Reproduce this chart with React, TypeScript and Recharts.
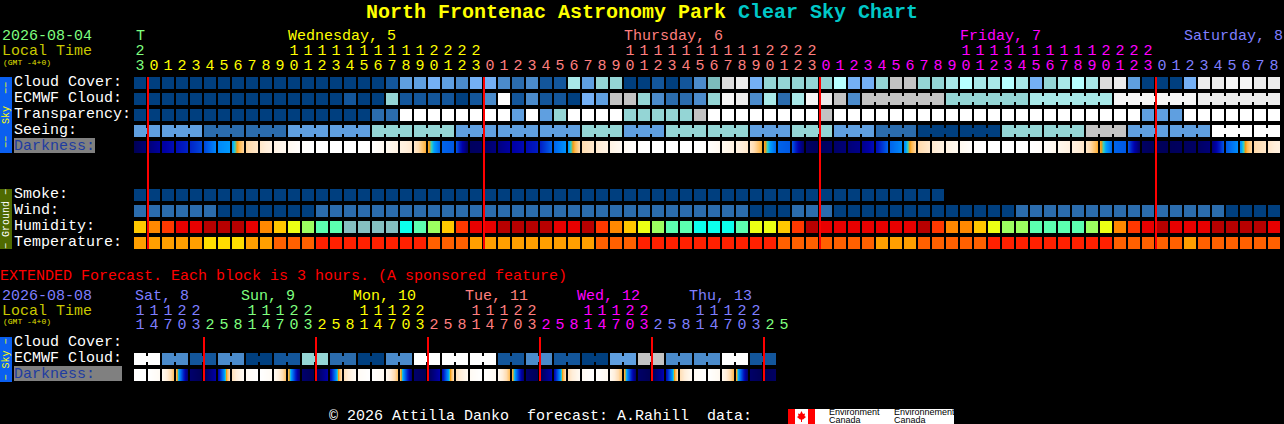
import { ReferenceLine, Scatter, ScatterChart, XAxis, YAxis } from "recharts";

const MONO = "'Liberation Mono', monospace";

// sky condition colour per level, dark blue (clear / good) to white (overcast / poor)
const SKY_COLORS = [
  "#003f7f", "#13569b", "#2b6cad", "#4b8bcb", "#5f9fe0",
  "#74b0f5", "#7cbcbc", "#94d5d5", "#a8e8e8", "#b7ffff",
  "#c3c3c3", "#dcdcdc", "#ececec", "#f6f6f6", "#ffffff",
];
const HUMIDITY_COLORS = [
  "#85c0c0", "#0cffec", "#5cffb0", "#9cff60", "#ecff14",
  "#ffc800", "#ff8800", "#ff3800", "#e80000", "#b80000",
];
const TEMP_COLORS = ["#ffdd00", "#ff9f00", "#ff6000", "#ff2000"];

// darkness ramp: score 0 is full daylight, 10 is a moonless night
const DARK_SCORES = [0, 1, 2, 3, 4, 4.4, 4.8, 5.2, 6, 6.8, 7.5, 8.2, 9, 10];
const DARK_RGB = [
  [255, 255, 255], [255, 248, 238], [255, 238, 218], [255, 220, 176],
  [255, 184, 76], [245, 154, 16], [48, 208, 192], [0, 160, 255],
  [0, 112, 240], [0, 64, 216], [0, 24, 192], [0, 0, 168], [0, 0, 128], [0, 0, 80],
];

const cloudCover = [
  0, 0, 0, 0, 0, 0, 0, 0, 0, 0, 0, 0, 0, 0, 0, 0, 0, 0, 1, 4, 4, 5, 4, 3, 5, 5, 3, 2, 3, 1, 1, 8, 4, 7, 7, 0, 0, 1, 0, 1, 3,
  6, 11, 12, 5, 7, 7, 7, 7, 7, 9, 5, 5, 7, 10, 10, 7, 7, 8, 9, 8, 8, 9, 8, 5, 7, 8, 9, 8, 11, 12, 4, 0, 0, 0, 5, 12, 12, 13, 13, 12, 12,
];
const ecmwfCloud = [
  0, 0, 0, 0, 0, 0, 0, 0, 0, 0, 0, 0, 0, 0, 0, 1, 0, 0, 7, 1, 1, 1, 1, 0, 1, 3, 14, 1, 3, 1, 1, 0, 5, 4, 10, 10, 7, 3, 2, 2, 3,
  7, 13, 12, 3, 8, 2, 8, 13, 12, 10, 3, 10, 10, 10, 10, 10, 10, 7, 7, 7, 7, 7, 7, 8, 8, 8, 8, 8, 8, 13, 13, 13, 13, 13, 13, 12, 12, 12, 12, 12, 12,
];
const transparency = [
  0, 0, 0, 0, 0, 0, 0, 0, 0, 0, 0, 0, 0, 0, 0, 0, 0, 2, 2, 14, 14, 14, 14, 14, 14, 14, 14, 4, 14, 4, 7, 14, 14, 14, 14, 7, 7, 7, 7, 7, 10,
  14, 14, 14, 14, 14, 14, 14, 14, 10, 14, 14, 14, 14, 14, 14, 14, 14, 14, 14, 14, 14, 14, 14, 14, 14, 14, 14, 14, 14, 14, 14, 4, 4, 4, 14, 14, 14, 14, 14, 14, 14,
];
const seeing = [
  4, 4, 4, 4, 4, 2, 2, 2, 2, 2, 2, 4, 4, 4, 4, 4, 4, 7, 7, 7, 7, 7, 7, 4, 4, 4, 4, 4, 4, 4, 4, 4, 7, 7, 7, 4, 4, 4, 7, 7, 7,
  7, 7, 7, 4, 4, 4, 7, 7, 7, 4, 4, 4, 2, 2, 2, 0, 0, 0, 0, 0, 0, 7, 7, 7, 7, 7, 7, 10, 10, 10, 4, 4, 4, 4, 4, 4, 14, 14, 14, 14, 14,
];
// darkness score at each cell edge, one more than the cells
const darkness = [
  9.9, 9.2, 8.4, 7.8, 7.3, 6.7, 5.6, 5.3, 3.2, 2.4, 1.6, 0.9, 0.2, 0, 0, 0, 0, 0.1, 0.9, 1.6, 2.3, 4.2, 6.2, 6.4, 9.7, 9.6, 9.0, 8.3,
  7.9, 7.4, 6.2, 5.4, 3.0, 2.3, 1.5, 0.7, 0.1, 0, 0, 0, 0, 0.1, 0.9, 1.6, 2.4, 4.2, 6.2, 6.4, 9.6, 9.8, 9.5, 9.2, 8.8, 7.8, 6.2, 5.6,
  3.1, 2.3, 1.6, 0.9, 0.2, 0, 0, 0, 0, 0.3, 1.0, 1.7, 2.4, 4.2, 6.2, 6.4, 9.6, 9.8, 9.8, 9.7, 9.6, 9.2, 6.4, 5.5, 3.1, 2.4, 1.7,
];
const smoke = [
  0, 0, 0, 0, 0, 0, 0, 0, 0, 0, 0, 0, 0, 0, 0, 0, 0, 0, 0, 0, 0, 0, 0, 0, 0, 0, 0, 0, 0,
  0, 0, 0, 0, 0, 0, 0, 0, 0, 0, 0, 0, 0, 0, 0, 0, 0, 0, 0, 0, 0, 0, 0, 0, 0, 0, 0, 0, 0,
];
const wind = [
  2, 2, 2, 2, 2, 2, 0, 0, 0, 0, 0, 0, 0, 2, 2, 2, 2, 2, 2, 2, 2, 2, 2, 2, 2, 2, 2, 2, 2, 2, 2, 2, 2, 2, 2, 2, 2, 2, 2, 2, 2,
  2, 2, 2, 0, 0, 0, 2, 2, 2, 0, 0, 0, 0, 0, 0, 0, 0, 0, 0, 0, 0, 0, 2, 2, 2, 2, 2, 2, 2, 2, 2, 2, 2, 2, 2, 2, 2, 0, 0, 0, 0,
];
const humidity = [
  5, 6, 7, 8, 8, 9, 9, 9, 8, 6, 5, 4, 3, 2, 2, 0, 0, 0, 0, 1, 2, 3, 5, 7, 8, 8, 9, 9, 9, 9, 8, 8, 9, 7, 6, 5, 4, 3, 2, 2, 1,
  1, 1, 2, 4, 4, 5, 7, 9, 8, 8, 8, 8, 8, 8, 8, 9, 7, 6, 6, 5, 4, 3, 3, 2, 2, 2, 2, 3, 4, 6, 7, 8, 9, 8, 8, 8, 9, 9, 9, 9, 8,
];
const temperature = [
  1, 1, 1, 1, 1, 0, 0, 0, 1, 1, 2, 2, 2, 3, 3, 3, 3, 3, 3, 3, 3, 2, 2, 2, 1, 1, 1, 1, 1, 1, 1, 1, 1, 2, 2, 2, 3, 3, 3, 3, 3,
  3, 3, 3, 3, 3, 2, 2, 2, 2, 2, 2, 2, 1, 1, 1, 2, 2, 2, 2, 2, 3, 3, 3, 3, 3, 3, 3, 3, 3, 2, 2, 2, 2, 2, 1, 2, 2, 2, 2, 2, 2,
];

const extEcmwf = [
  14, 14, 3, 3, 1, 1, 3, 3, 0, 0, 1, 1, 7, 7, 2, 2, 0, 0, 3, 3, 14, 14, 14, 14,
  14, 14, 1, 1, 3, 3, 1, 1, 0, 0, 4, 4, 10, 10, 3, 3, 3, 3, 14, 14, 1, 1,
];
const extDarkness = [
  0.1, 0, 0.7, 3.8, 9.4, 9.9, 8.2, 2.8, 0.6, 0, 0.7, 3.8, 9.4, 9.9, 8.2, 2.8,
  0.6, 0, 0.8, 3.8, 9.4, 9.9, 8.1, 2.8, 0.7, 0, 0.8, 3.9, 9.4, 9.9, 8.1, 2.8,
  0.7, 0, 0.8, 3.9, 9.5, 9.9, 8.0, 2.9, 0.7, 0, 0.9, 4.0, 9.5, 9.9, 9.6,
];

const mainHours = [
  23, 0, 1, 2, 3, 4, 5, 6, 7, 8, 9, 10, 11, 12, 13, 14, 15, 16, 17, 18, 19, 20, 21, 22, 23,
  0, 1, 2, 3, 4, 5, 6, 7, 8, 9, 10, 11, 12, 13, 14, 15, 16, 17, 18, 19, 20, 21, 22, 23,
  0, 1, 2, 3, 4, 5, 6, 7, 8, 9, 10, 11, 12, 13, 14, 15, 16, 17, 18, 19, 20, 21, 22, 23,
  0, 1, 2, 3, 4, 5, 6, 7, 8,
];
const extHours = [
  11, 14, 17, 20, 23, 2, 5, 8, 11, 14, 17, 20, 23, 2, 5, 8, 11, 14, 17, 20, 23, 2, 5, 8,
  11, 14, 17, 20, 23, 2, 5, 8, 11, 14, 17, 20, 23, 2, 5, 8, 11, 14, 17, 20, 23, 2, 5,
];

// start = first tick of the day, at = tick the day name sits over
const mainDays = [
  { start: 0, at: 0, dx: 2, label: "T", color: "#7fff7f" },
  { start: 1, at: 11, dx: 0, label: "Wednesday, 5", color: "#ffff00" },
  { start: 25, at: 35, dx: 0, label: "Thursday, 6", color: "#ff7f7f" },
  { start: 49, at: 59, dx: 0, label: "Friday, 7", color: "#ff00ff" },
  { start: 73, at: 75, dx: 0, label: "Saturday, 8", color: "#7f7fff" },
];
const extDays = [
  { start: 0, at: 0, dx: 1, label: "Sat, 8", color: "#7f7fff" },
  { start: 5, at: 8, dx: -5, label: "Sun, 9", color: "#7fff7f" },
  { start: 13, at: 16, dx: -5, label: "Mon, 10", color: "#ffff00" },
  { start: 21, at: 24, dx: -5, label: "Tue, 11", color: "#ff7f7f" },
  { start: 29, at: 32, dx: -5, label: "Wed, 12", color: "#ff00ff" },
  { start: 37, at: 40, dx: -5, label: "Thu, 13", color: "#7f7fff" },
  { start: 45, at: -1, dx: 0, label: "", color: "#7fff7f" },
];

const mainMidnights = [1, 25, 49, 73];
const extMidnights = [5, 13, 21, 29, 37, 45];

const mainRowLabels: Record<number, string> = {
  0: "Cloud Cover:", 1: "ECMWF Cloud:", 2: "Transparency:", 3: "Seeing:", 4: "Darkness:",
  7: "Smoke:", 8: "Wind:", 9: "Humidity:", 10: "Temperature:",
};
const extRowLabels: Record<number, string> = { 0: "Cloud Cover:", 1: "ECMWF Cloud:", 2: "Darkness:" };

function darkColor(score: number) {
  let k = 0;
  while (k < DARK_SCORES.length - 2 && score > DARK_SCORES[k + 1]) k++;
  const t = (score - DARK_SCORES[k]) / (DARK_SCORES[k + 1] - DARK_SCORES[k]);
  const c = DARK_RGB[k].map((a, n) => Math.round(a + (DARK_RGB[k + 1][n] - a) * t));
  return `rgb(${c[0]},${c[1]},${c[2]})`;
}

function levelCell(colors: string[], joins?: (i: number) => boolean) {
  return (p: any) => (
    <g shapeRendering="crispEdges">
      <rect x={p.cx} y={p.cy} width={12} height={12} fill={colors[p.payload.v]} />
      {joins && joins(p.payload.x) ? (
        <rect x={p.cx + 12} y={p.cy + 3} width={2} height={6} fill={colors[p.payload.v]} />
      ) : null}
    </g>
  );
}

function darkCell(p: any) {
  const px = [0, 1, 2, 3, 4, 5, 6, 7, 8, 9, 10, 11];
  return (
    <g shapeRendering="crispEdges">
      {px.map((n) => (
        <rect
          key={n}
          x={p.cx + n}
          y={p.cy}
          width={1}
          height={12}
          fill={darkColor(p.payload.v + ((p.payload.next - p.payload.v) * (n + 0.5)) / 12)}
        />
      ))}
    </g>
  );
}

function levelPoints(values: number[], row: number) {
  return values.map((v, i) => ({ x: i, y: row, v }));
}
function darkPoints(edges: number[], row: number) {
  return edges.slice(0, -1).map((v, i) => ({ x: i, y: row, v, next: edges[i + 1] }));
}

function hourTick(hours: number[], days: typeof mainDays, rows: number[]) {
  return (p: any) => {
    const i = p.payload.value;
    const hour = hours[i];
    const day = [...days].reverse().find((d) => d.start <= i);
    const name = days.find((d) => d.at === i);
    return (
      <g fontFamily={MONO} fontSize={15} fill={day?.color}>
        {name ? (
          <text x={p.x + name.dx} y={rows[0]} fill={name.color}>
            {name.label}
          </text>
        ) : null}
        {hour >= 10 ? (
          <text x={p.x + 6} y={rows[1]} textAnchor="middle">
            {Math.floor(hour / 10)}
          </text>
        ) : null}
        <text x={p.x + 6} y={rows[2]} textAnchor="middle">
          {hour % 10}
        </text>
      </g>
    );
  };
}

function rowTick(labels: Record<number, string>, darkWidth: number) {
  return (p: any) => {
    const label = labels[p.payload.value];
    const dark = label === "Darkness:";
    return (
      <g fontFamily={MONO} fontSize={15}>
        {dark ? <rect x={14} y={p.y - 3} width={darkWidth} height={15} fill="#808080" /> : null}
        <text x={14} y={p.y + 9} fill={dark ? "#1e3ca0" : "#ffffff"}>
          {label}
        </text>
      </g>
    );
  };
}

const tickList = (n: number) => Array.from({ length: n }, (_, i) => i);

function SideBar({ y, h, fill, color, text }: { y: number; h: number; fill: string; color: string; text: string }) {
  return (
    <g>
      <rect x={0} y={y} width={12} height={h} fill={fill} />
      <text
        transform={`translate(9 ${y + h / 2}) rotate(-90)`}
        textAnchor="middle"
        fontFamily={MONO}
        fontSize={10}
        fill={color}
      >
        {text}
      </text>
    </g>
  );
}

function Backdrop() {
  return (
    <svg width={1284} height={424} style={{ position: "absolute", left: 0, top: 0 }}>
      <g fontFamily={MONO}>
        <text x={366} y={18} fontSize={20} fontWeight="bold" fill="#ffff00">
          North Frontenac Astronomy Park <tspan fill="#00c8c8">Clear Sky Chart</tspan>
        </text>
        <g fontSize={15}>
          <text x={2} y={40} fill="#7fff7f">2026-08-04</text>
          <text x={2} y={55} fill="#c8c800">Local Time</text>
          <text x={0} y={280} fill="#ff0000">EXTENDED Forecast. Each block is 3 hours. (A sponsored feature)</text>
          <text x={2} y={300} fill="#7f7fff">2026-08-08</text>
          <text x={2} y={315} fill="#c8c800">Local Time</text>
          <text x={329} y={420} fill="#ffffff">{"© 2026 Attilla Danko\u00A0\u00A0forecast: A.Rahill\u00A0\u00A0data:"}</text>
        </g>
        <text x={3} y={64.5} fontSize={8} fill="#e0e000">(GMT -4+0)</text>
        <text x={3} y={324} fontSize={8} fill="#e0e000">(GMT -4+0)</text>
      </g>
      <SideBar y={77} h={76} fill="#0a5ff0" color="#ffff00" text={"−−\u00A0\u00A0Sky\u00A0\u00A0−−"} />
      <SideBar y={189} h={60} fill="#4f6a00" color="#ffffff" text="− Ground −" />
      <SideBar y={337} h={45} fill="#0a5ff0" color="#ffff00" text="− Sky −" />
      <g>
        <rect x={788} y={409} width={166} height={15} fill="#ffffff" />
        <rect x={788} y={409} width={7} height={15} fill="#ff0000" />
        <rect x={808} y={409} width={7} height={15} fill="#ff0000" />
        <polygon
          points="801.5,411 803,414 805,413.5 804.5,416 806,417 803,419.5 802,419.5 802,422 801,422 801,419.5 800,419.5 797,417 798.5,416 798,413.5 800,414"
          fill="#ff0000"
        />
        <g fontFamily="'Liberation Sans', sans-serif" fontSize={9} fill="#000000">
          <text x={829} y={415}>Environment</text>
          <text x={829} y={423}>Canada</text>
          <text x={894} y={415}>Environnement</text>
          <text x={894} y={423}>Canada</text>
        </g>
      </g>
    </svg>
  );
}

function MainChart() {
  return (
    <div style={{ position: "absolute", left: 0, top: 0 }}>
      <ScatterChart width={1284} height={259} margin={{ top: 0, right: 2, bottom: 10, left: 0 }}>
        <XAxis
          xAxisId={0}
          type="number"
          dataKey="x"
          orientation="top"
          height={77}
          domain={[0, 82]}
          ticks={tickList(82)}
          interval={0}
          axisLine={false}
          tickLine={false}
          tick={hourTick(mainHours, mainDays, [40, 55, 70])}
        />
        <YAxis
          yAxisId={0}
          type="number"
          dataKey="y"
          width={134}
          reversed
          domain={[0, 10.75]}
          ticks={[0, 1, 2, 3, 4, 7, 8, 9, 10]}
          interval={0}
          axisLine={false}
          tickLine={false}
          tick={rowTick(mainRowLabels, 81)}
        />
        <Scatter data={levelPoints(cloudCover, 0)} shape={levelCell(SKY_COLORS)} isAnimationActive={false} />
        <Scatter
          data={levelPoints(ecmwfCloud, 1)}
          shape={levelCell(SKY_COLORS, (i) => i >= 52 && (i - 51) % 6 !== 0)}
          isAnimationActive={false}
        />
        <Scatter data={levelPoints(transparency, 2)} shape={levelCell(SKY_COLORS)} isAnimationActive={false} />
        <Scatter
          data={levelPoints(seeing, 3)}
          shape={levelCell(SKY_COLORS, (i) => (i - 1) % 3 !== 0 && i < 81)}
          isAnimationActive={false}
        />
        <Scatter data={darkPoints(darkness, 4)} shape={darkCell} isAnimationActive={false} />
        <Scatter data={levelPoints(smoke, 7)} shape={levelCell(SKY_COLORS)} isAnimationActive={false} />
        <Scatter data={levelPoints(wind, 8)} shape={levelCell(SKY_COLORS)} isAnimationActive={false} />
        <Scatter data={levelPoints(humidity, 9)} shape={levelCell(HUMIDITY_COLORS)} isAnimationActive={false} />
        <Scatter data={levelPoints(temperature, 10)} shape={levelCell(TEMP_COLORS)} isAnimationActive={false} />
        {mainMidnights.map((d) => (
          <ReferenceLine key={d} x={d} stroke="#ff0000" strokeWidth={2} zIndex={2000} />
        ))}
      </ScatterChart>
    </div>
  );
}

function ExtendedChart() {
  return (
    <div style={{ position: "absolute", left: 0, top: 285 }}>
      <ScatterChart width={1284} height={107} margin={{ top: 0, right: 2, bottom: 11, left: 0 }}>
        <XAxis
          xAxisId={0}
          type="number"
          dataKey="x"
          orientation="top"
          height={52}
          domain={[0, 82]}
          ticks={tickList(47)}
          interval={0}
          axisLine={false}
          tickLine={false}
          tick={hourTick(extHours, extDays, [15, 30, 44])}
        />
        <YAxis
          yAxisId={0}
          type="number"
          dataKey="y"
          width={134}
          reversed
          domain={[0, 2.75]}
          ticks={[0, 1, 2]}
          interval={0}
          axisLine={false}
          tickLine={false}
          tick={rowTick(extRowLabels, 108)}
        />
        <Scatter
          data={levelPoints(extEcmwf, 1)}
          shape={levelCell(SKY_COLORS, (i) => i % 2 === 0)}
          isAnimationActive={false}
        />
        <Scatter data={darkPoints(extDarkness, 2)} shape={darkCell} isAnimationActive={false} />
        {extMidnights.map((d) => (
          <ReferenceLine key={d} x={d} stroke="#ff0000" strokeWidth={2} zIndex={2000} />
        ))}
      </ScatterChart>
    </div>
  );
}

export default function App() {
  return (
    <div style={{ position: "absolute", left: 0, top: 0, width: 1284, height: 424, background: "#000", overflow: "hidden" }}>
      <style>{"body{margin:0;background:#000}"}</style>
      <Backdrop />
      <MainChart />
      <ExtendedChart />
    </div>
  );
}
